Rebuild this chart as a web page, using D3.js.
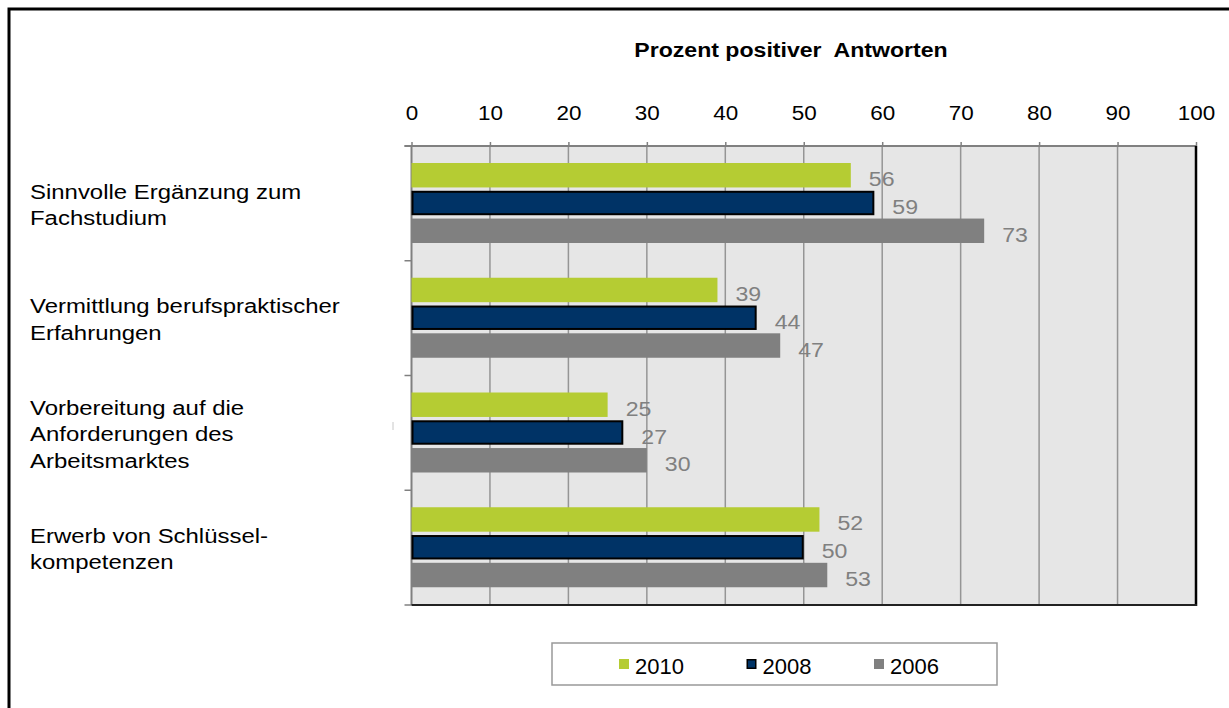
<!DOCTYPE html>
<html><head><meta charset="utf-8">
<script src="https://cdn.jsdelivr.net/npm/d3@7"></script>
<style>
html,body{margin:0;padding:0;background:#fff;}
svg{display:block;font-family:"Liberation Sans",Arial,sans-serif;}
</style></head>
<body>
<script>
// ---- data ----
const categories = [
  "Sinnvolle Ergänzung zum|Fachstudium",
  "Vermittlung berufspraktischer|Erfahrungen",
  "Vorbereitung auf die|Anforderungen des|Arbeitsmarktes",
  "Erwerb von Schlüssel-|kompetenzen"
];
const seriesNames = ["2010", "2008", "2006"];
const values2010 = [56, 39, 25, 52];
const values2008 = [59, 44, 27, 50];
const values2006 = [73, 47, 30, 53];
const tickValues = [0, 10, 20, 30, 40, 50, 60, 70, 80, 90, 100];
const axisTitle = "Prozent positiver\u00a0 Antworten";
const seriesColors = {"2010": "#b5cc33", "2008": "#003366", "2006": "#808080"};
const seriesStroke = {"2010": "none", "2008": "#000", "2006": "none"};

const seriesValues = {"2010": values2010, "2008": values2008, "2006": values2006};

const W = 1229, H = 708;
const svg = d3.select("body").append("svg").attr("width", W).attr("height", H);

// helper: horizontally stretched text
function stext(parent, x, y, s) {
  return parent.append("text").attr("transform", `translate(${x},${y}) scale(${s},1)`);
}

// outer frame
svg.append("rect").attr("x", 9).attr("y", 9).attr("width", W + 20).attr("height", H + 20)
  .attr("fill", "#fff").attr("stroke", "#000").attr("stroke-width", 3);

const x = d3.scaleLinear().domain([0, 100]).range([411.5, 1196]);
const y = d3.scaleBand().domain(d3.range(categories.length)).range([146, 605]);
const ySub = d3.scaleBand().domain(seriesNames).range([17, 97]).paddingInner(0.12);

// plot background
svg.append("rect").attr("x", x(0)).attr("y", 146).attr("width", x(100) - x(0)).attr("height", 605 - 146)
  .attr("fill", "#e6e6e6");

// grid
svg.append("g").selectAll("line").data(tickValues.slice(1, -1)).join("line")
  .attr("x1", d => x(d)).attr("x2", d => x(d)).attr("y1", 146).attr("y2", 605)
  .attr("stroke", "#959595").attr("stroke-width", 1.5);

// top axis
const axisG = svg.append("g").attr("transform", "translate(0,146)")
  .call(d3.axisTop(x).tickValues(tickValues).tickSize(4).tickPadding(22).tickSizeOuter(0));
axisG.select(".domain").attr("stroke", "#808080").attr("stroke-width", 2)
  .attr("d", `M${x(0) - 7},0H${x(100)}`);
axisG.selectAll(".tick line").attr("stroke", "#808080").attr("stroke-width", 1.5);
axisG.selectAll(".tick text").attr("font-size", 21).attr("fill", "#000")
  .attr("font-family", "Liberation Sans, Arial, sans-serif")
  .attr("transform", "scale(1.07,1)");

// left axis (category boundaries)
const bounds = categories.map((c, i) => y(i)).concat([605]);
svg.append("line").attr("x1", x(0)).attr("x2", x(0)).attr("y1", 146).attr("y2", 605)
  .attr("stroke", "#808080").attr("stroke-width", 2);
svg.append("g").selectAll("line").data(bounds).join("line")
  .attr("x1", x(0) - 7).attr("x2", x(0)).attr("y1", d => d).attr("y2", d => d)
  .attr("stroke", "#808080").attr("stroke-width", 1.5);

// right & bottom border
svg.append("line").attr("x1", x(100)).attr("x2", x(100)).attr("y1", 146).attr("y2", 606)
  .attr("stroke", "#000").attr("stroke-width", 2.5);
svg.append("line").attr("x1", x(0)).attr("x2", x(100) + 1).attr("y1", 605).attr("y2", 605)
  .attr("stroke", "#222").attr("stroke-width", 2);

// stray small mark
svg.append("line").attr("x1", 393).attr("x2", 393).attr("y1", 422).attr("y2", 430)
  .attr("stroke", "#c8c8c8").attr("stroke-width", 1);

// bars
const groups = svg.append("g").selectAll("g").data(categories).join("g")
  .attr("transform", (d, i) => `translate(0,${y(i)})`);
groups.each(function(c, i) {
  const g = d3.select(this);
  seriesNames.forEach(s => {
    const v = seriesValues[s][i];
    const sw = seriesStroke[s] === "none" ? 0 : 2;
    g.append("rect")
      .attr("x", x(0) + sw / 2).attr("y", ySub(s) + sw / 2)
      .attr("width", x(v) - x(0) - sw).attr("height", ySub.bandwidth() - sw)
      .attr("fill", seriesColors[s]).attr("stroke", seriesStroke[s]).attr("stroke-width", sw);
    stext(g, x(v) + 18, ySub(s) + ySub.bandwidth() / 2 + 11, 1.1)
      .attr("font-size", 21).attr("fill", "#808080").text(v);
  });
});

// category labels
categories.forEach((c, i) => {
  const lines = c.split("|");
  const cy = y(i) + y.bandwidth() / 2;
  const lh = 26.5;
  lines.forEach((ln, k) => {
    stext(svg, 30, cy - (lines.length - 1) * lh / 2 + 8.5 + k * lh, 1.14)
      .attr("font-size", 21).attr("fill", "#000").text(ln);
  });
});

// title
stext(svg, 791, 57, 1.1).attr("text-anchor", "middle")
  .attr("font-size", 21).attr("font-weight", "bold").attr("fill", "#000").text(axisTitle);

// legend
svg.append("rect").attr("x", 552).attr("y", 643).attr("width", 445).attr("height", 42)
  .attr("fill", "#fff").attr("stroke", "#999").attr("stroke-width", 1.5);
const legX = d3.scalePoint().domain(seriesNames).range([619, 874]);
const lg = svg.append("g").selectAll("g").data(seriesNames).join("g")
  .attr("transform", d => `translate(${legX(d)},659)`);
lg.append("rect").attr("x", d => seriesStroke[d] === "none" ? 0 : 0.75)
  .attr("y", d => seriesStroke[d] === "none" ? 0 : 0.75)
  .attr("width", d => seriesStroke[d] === "none" ? 10 : 8.5)
  .attr("height", d => seriesStroke[d] === "none" ? 10 : 8.5)
  .attr("fill", d => seriesColors[d]).attr("stroke", d => seriesStroke[d]).attr("stroke-width", 1.5);
lg.append("text").attr("x", 16).attr("y", 15).attr("font-size", 22).attr("fill", "#000").text(d => d);
</script>
</body></html>
